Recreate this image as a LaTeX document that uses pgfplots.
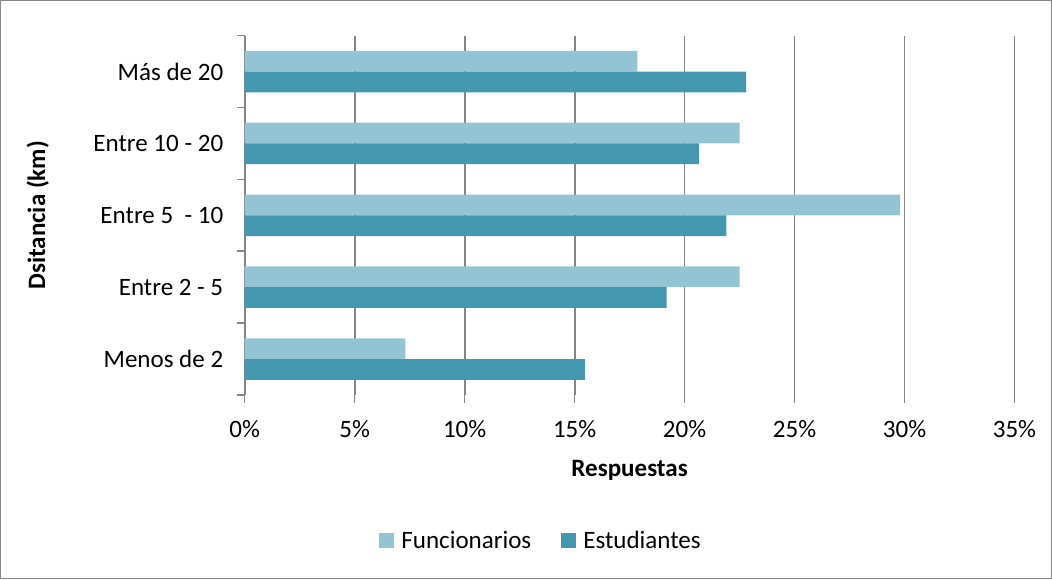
\documentclass[border=0pt]{standalone}
\usepackage{fontspec}
\setmainfont{Carlito}
\usepackage{pgfplots}
\pgfplotsset{compat=1.18}
\definecolor{func}{RGB}{147,196,212}
\definecolor{estu}{RGB}{67,152,176}
\definecolor{gridgray}{RGB}{134,134,134}

\begin{document}
\begin{tikzpicture}[font=\fontsize{25bp}{30bp}\selectfont]
\begin{axis}[
  scale only axis,
  width=769bp, height=359bp,
  xbar, bar width=20.7bp,
  xmin=0, xmax=35,
  ymin=-0.5, ymax=4.5,
  xtick={0,5,...,35},
  xticklabel={\pgfmathprintnumber{\tick}\%},
  /pgf/number format/assume math mode=true,
  ytick={-0.5,0.5,...,4.5},
  y tick label as interval,
  yticklabels={Menos de 2, Entre 2 - 5, Entre 5~~- 10, Entre 10 - 20, Más de 20},
  axis lines*=left,
  x axis line style={draw=none},
  y axis line style={gridgray, line width=1.5bp},
  tick align=outside,
  major tick length=8bp,
  tick style={gridgray, line width=1.5bp},
  xmajorgrids,
  grid style={gridgray, line width=1.8bp},
  xticklabel style={yshift=-14bp},
  yticklabel style={xshift=-10bp},
  xlabel={\bfseries Respuestas},
  xlabel style={at={(rel axis cs:0.5,-0.21)}, anchor=center},
  ylabel={\bfseries Dsitancia (km)},
  ylabel style={at={(rel axis cs:-0.269,0.5)}, anchor=center},
  legend style={at={(rel axis cs:0.385,-0.405)}, anchor=center, draw=none,
    legend columns=2,
    /tikz/every odd column/.append style={column sep=5bp},
    /tikz/every even column/.append style={column sep=28bp}},
  every axis plot post/.append style={legend image code/.code={
    \fill[#1] (0bp,-7.5bp) rectangle (15bp,7.5bp);}},
  clip=false,
]
\addplot[fill=func, draw=none, bar shift=10.35bp] coordinates {
  (7.3,0) (22.5,1) (29.8,2) (22.5,3) (17.85,4)
};
\addlegendentry{Funcionarios}
\addplot[fill=estu, draw=none, bar shift=-10.35bp] coordinates {
  (15.47,0) (19.18,1) (21.9,2) (20.65,3) (22.8,4)
};
\addlegendentry{Estudiantes}
\draw[gridgray, line width=1bp] (rel axis cs:-0.3173,-0.511) rectangle (rel axis cs:1.0481,1.0978);
\end{axis}
\end{tikzpicture}
\end{document}
